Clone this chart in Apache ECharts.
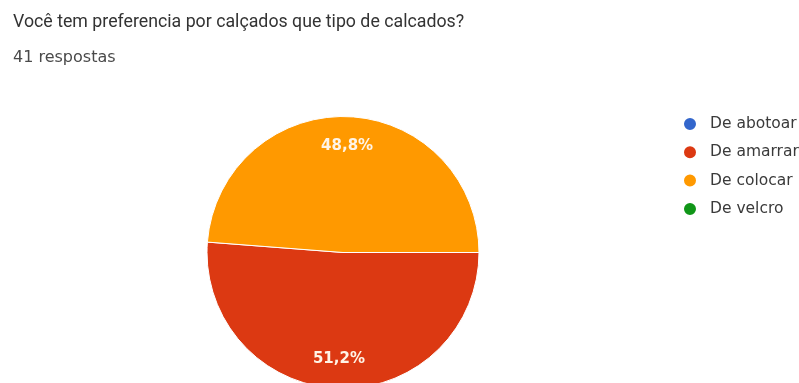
<!DOCTYPE html>
<html>
<head>
<meta charset="utf-8">
<script src="https://cdn.jsdelivr.net/npm/echarts@6/dist/echarts.min.js"></script>
<style>
  html, body { margin: 0; padding: 0; background: #fff; }
  #chart { width: 799px; height: 383px; }
</style>
</head>
<body>
<div id="chart"></div>
<script>
// Survey answers
const categories = ['De abotoar', 'De amarrar', 'De colocar', 'De velcro'];
const answerCounts = [0, 21, 20, 0];
const sliceColors = ['#3366cc', '#dc3912', '#ff9900', '#109618'];
const titleText = 'Você tem preferencia por calçados que tipo de calcados?';
const subtitleText = '41 respostas';

const total = answerCounts.reduce((a, b) => a + b, 0);
const pieData = categories.map((name, i) => ({
  name: name,
  value: answerCounts[i],
  itemStyle: { color: sliceColors[i] }
}));

function pctLabel(p) {
  if (!p.value) return '';
  return (p.value / total * 100).toFixed(1).replace('.', ',') + '%';
}

const pieCenter = [343, 252.5];
const pieRadius = 136;

const chart = echarts.init(document.getElementById('chart'), null, { renderer: 'canvas' });
chart.setOption({
  animation: false,
  backgroundColor: '#ffffff',
  title: [
    {
      text: titleText,
      left: 13, top: 14,
      padding: 0,
      textStyle: { fontFamily: 'Roboto', fontSize: 17.75, fontWeight: 'normal', color: '#333333' }
    },
    {
      text: subtitleText,
      left: 13, top: 49.5,
      padding: 0,
      textStyle: { fontFamily: 'DejaVu Sans', fontSize: 16, fontWeight: 'normal', color: '#4a4a4a' }
    }
  ],
  legend: {
    orient: 'vertical',
    left: 682, top: 116,
    padding: 0,
    icon: 'circle',
    itemWidth: 14, itemHeight: 14,
    itemGap: 12.3,
    data: categories,
    selectedMode: false,
    textStyle: {
      fontFamily: 'DejaVu Sans', fontSize: 15.5, lineHeight: 16,
      color: '#3a3a3a', padding: [0, 0, 0, 8]
    }
  },
  series: [
    {
      type: 'pie',
      center: pieCenter,
      radius: [0, pieRadius],
      startAngle: 0,
      clockwise: true,
      silent: true,
      itemStyle: { borderColor: '#ffffff', borderWidth: 1 },
      label: { show: false },
      labelLine: { show: false },
      data: pieData
    },
    {
      // transparent ring that only carries the percentage labels
      type: 'pie',
      center: pieCenter,
      radius: [71.5, pieRadius],
      startAngle: 0,
      clockwise: true,
      silent: true,
      itemStyle: { color: 'rgba(0,0,0,0)', borderWidth: 0 },
      label: {
        show: true,
        position: 'inside',
        formatter: pctLabel,
        fontFamily: 'DejaVu Sans',
        fontSize: 15,
        fontWeight: 'bold',
        color: '#fff4e6'
      },
      labelLine: { show: false },
      data: categories.map((name, i) => ({ name: name, value: answerCounts[i] })),
      legendHoverLink: false
    }
  ]
});
</script>
</body>
</html>
